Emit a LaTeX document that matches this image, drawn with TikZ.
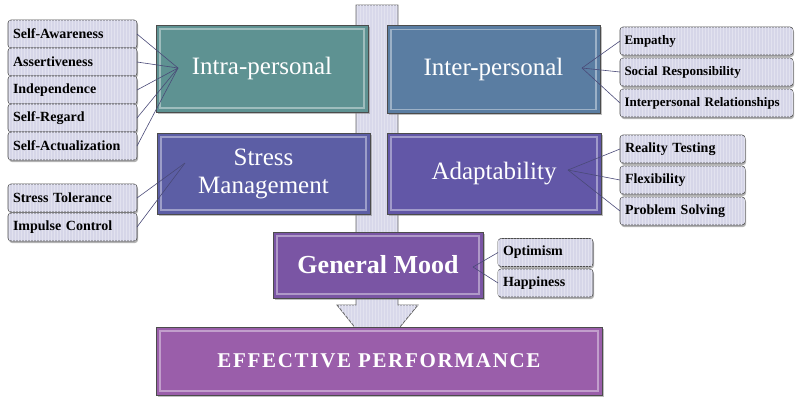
\documentclass[tikz,border=0pt]{standalone}
\usepackage{fontspec}
\setmainfont{Liberation Serif}
\usetikzlibrary{shadows,patterns}
\definecolor{intracol}{HTML}{5E9292}
\definecolor{intercol}{HTML}{5A7DA2}
\definecolor{stresscol}{HTML}{5C5EA5}
\definecolor{adaptcol}{HTML}{6257A7}
\definecolor{moodcol}{HTML}{7A55A4}
\definecolor{perfcol}{HTML}{9A5EAA}
\definecolor{factorfill}{HTML}{D6D6E8}
\definecolor{shaftfill}{HTML}{D8D8EA}
\definecolor{stripecol}{HTML}{E2E2EF}
\definecolor{linkcol}{HTML}{4A4A78}

\begin{document}
\begin{tikzpicture}[x=1pt,y=-1pt,inner sep=0pt,outer sep=0pt,
mainbox/.style={draw=black!70,rectangle,line width=0.8pt,text=white,align=center,font=\fontsize{25}{28}\selectfont,drop shadow={shadow xshift=1.5pt,shadow yshift=-1.5pt,opacity=0.5}},
bevel/.style={draw=white,opacity=0.4,line width=1.6pt},
factor/.style={draw=black!70,rounded corners=3pt,fill=factorfill,line width=0.6pt,inner xsep=5pt,minimum height=28pt,align=left,font=\bfseries\fontsize{14}{16}\selectfont,drop shadow={shadow xshift=1pt,shadow yshift=-2pt,opacity=0.6},postaction={pattern=vertical lines,pattern color=stripecol}},
smallfactor/.style={factor,inner xsep=4.5pt,font=\bfseries\fontsize{13}{15}\selectfont},
link/.style={draw=linkcol,line width=0.6pt}]
\useasboundingbox (0,0) rectangle (795,397);

% central arrow
\draw[draw=black!60,line width=0.8pt,fill=shaftfill,postaction={pattern=vertical lines,pattern color=stripecol}] (356,5) -- (398,5) -- (398,305) -- (418,305) -- (377,355) -- (337,305) -- (356,305) -- cycle;

\draw (262,68.5) node[mainbox,fill=intracol,minimum width=212pt,minimum height=87pt] (intra) {Intra-personal};
\draw (493.5,69.5) node[mainbox,fill=intercol,minimum width=213pt,minimum height=88pt] (inter) {Inter-personal};
\draw (263.5,173.5) node[mainbox,fill=stresscol,minimum width=213pt,minimum height=81pt] (stress) {Stress\\Management};
\draw (494,173.5) node[mainbox,fill=adaptcol,minimum width=214pt,minimum height=81pt] (adapt) {Adaptability};
\draw (378,265) node[mainbox,fill=moodcol,minimum width=210pt,minimum height=66pt,font=\bfseries\fontsize{26}{28}\selectfont] (mood) {General Mood};
\draw (379,361) node[mainbox,fill=perfcol,minimum width=446pt,minimum height=68pt,font=\bfseries\fontsize{21}{24}\selectfont\addfontfeature{LetterSpace=8}] (perf) {EFFECTIVE PERFORMANCE};
\foreach \n in {intra,inter,stress,adapt,mood,perf}
  \draw[bevel] ([shift={(4,4)}]\n.north west) rectangle ([shift={(-4,-4)}]\n.south east);

\begin{scope}[every node/.append style={text width=119pt}]
\draw (72.5,34) node[factor] (awareness) {Self-Awareness};
\draw (72.5,62) node[factor] (assert) {Assertiveness};
\draw (72.5,90) node[factor] (indep) {Independence};
\draw (72.5,118) node[factor] (regard) {Self-Regard};
\draw (72.5,146) node[factor] (actual) {Self-Actualization};
\draw (72.5,198) node[factor] (tolerance) {Stress Tolerance};
\draw (72.5,227) node[factor] (impulse) {Impulse Control};
\end{scope}
\begin{scope}[every node/.append style={text width=164pt}]
\draw (706.5,41) node[smallfactor] (empathy) {Empathy};
\draw (706.5,72) node[smallfactor] (social) {Social Responsibility};
\draw (706.5,103) node[smallfactor] (relations) {Interpersonal Relationships};
\end{scope}
\begin{scope}[every node/.append style={text width=115pt}]
\draw (682.5,149) node[factor] (reality) {Reality Testing};
\draw (682.5,180) node[factor] (flex) {Flexibility};
\draw (682.5,211) node[factor] (problem) {Problem Solving};
\end{scope}
\begin{scope}[every node/.append style={text width=85pt}]
\draw (545.5,252.5) node[factor] (optimism) {Optimism};
\draw (545.5,283) node[factor] (happy) {Happiness};
\end{scope}

\coordinate (intrahub) at (178,68);
\coordinate (stresshub) at (185,163);
\coordinate (interhub) at (582,68);
\coordinate (adapthub) at (568,170);
\coordinate (moodhub) at (473,267);

\foreach \f in {awareness,assert,indep,regard,actual}
  \draw[link] (intrahub) -- (\f.east);
\foreach \f in {tolerance,impulse}
  \draw[link] (stresshub) -- (\f.east);
\foreach \f in {empathy,social,relations}
  \draw[link] (interhub) -- (\f.west);
\foreach \f in {reality,flex,problem}
  \draw[link] (adapthub) -- (\f.west);
\foreach \f in {optimism,happy}
  \draw[link] (moodhub) -- (\f.west);
\end{tikzpicture}
\end{document}
